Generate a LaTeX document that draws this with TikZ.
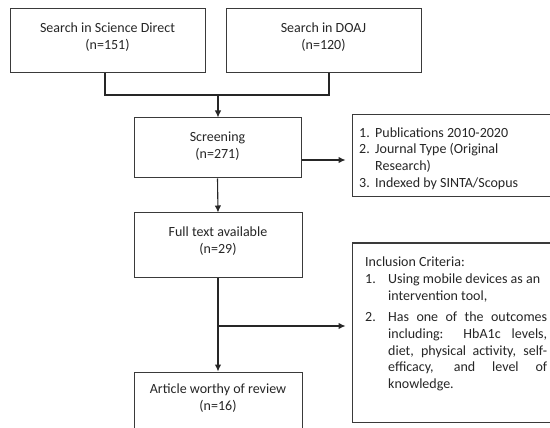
\documentclass[tikz,border=0pt]{standalone}
\usepackage{fontspec}
\setmainfont{Carlito}
\usetikzlibrary{arrows.meta,calc}
\definecolor{edge}{HTML}{3A3A3A}
\definecolor{ink}{HTML}{262626}
\begin{document}
\begin{tikzpicture}[x=1pt,y=-1pt,
  box/.style={draw=edge,line width=1pt,rectangle,inner sep=0pt},
  txt/.style={inner sep=0pt,anchor=north,align=center,text=ink,font=\fontsize{14}{16.7}\selectfont},
  conn/.style={draw=ink,line width=1.1pt},
  arr/.style={conn,-{Latex[length=7pt,width=6.5pt]}}]
\useasboundingbox (0,0) rectangle (550,428);
\clip (0,0) rectangle (550,428);
\fill[white] (0,0) rectangle (550,428);
% boxes
\node[box,minimum width=195pt,minimum height=64pt] (sd) at (107.5,41) {};
\node[box,minimum width=195pt,minimum height=64pt] (doaj) at (323.5,41) {};
\node[box,minimum width=167pt,minimum height=60pt] (scr) at (217.5,148) {};
\node[box,minimum width=168pt,minimum height=64pt] (full) at (218,245) {};
\node[box,minimum width=168pt,minimum height=64pt] (art) at (218,404) {};
\node[box,minimum width=204pt,minimum height=82pt] (c1) at (454,156) {};
\node[box,minimum width=204pt,minimum height=179pt] (c2) at (454,332.5) {};
% texts
\node[txt] (sdt) at (107.5,21) {\strut Search in Science Direct\\(n=151)};
\node[txt] (doajt) at (323.5,21) {\strut Search in DOAJ\\(n=120)};
\node[txt] (scrt) at (217.5,130) {\strut Screening\\(n=271)};
\node[txt] (fullt) at (218,225) {\strut Full text available\\(n=29)};
\node[txt] (artt) at (218,382) {\strut Article worthy of review\\(n=16)};
\node[txt,anchor=north west,align=left] (c1t) at (359,125.3) {\strut\makebox[16pt][l]{1.}Publications 2010-2020\\
\makebox[16pt][l]{2.}Journal Type (Original\\
\hspace*{16pt}Research)\\
\makebox[16pt][l]{3.}Indexed by SINTA/Scopus};
\node[txt,anchor=north west,align=left] (c2t) at (365,254.8) {\strut Inclusion Criteria:\\
\makebox[23pt][l]{1.}Using mobile devices as an\\
\hspace*{23pt}intervention tool,\\[5pt]
\makebox[23pt][l]{2.}\makebox[159pt][s]{Has one of the outcomes}\\
\hspace*{23pt}\makebox[159pt][s]{including: HbA1c levels,}\\
\hspace*{23pt}\makebox[159pt][s]{diet, physical activity, self-}\\
\hspace*{23pt}\makebox[159pt][s]{efficacy, and level of}\\
\hspace*{23pt}knowledge.};
% connectors
\coordinate (m1) at (105,95);
\coordinate (m2) at (329,95);
\coordinate (mm) at (218,95);
\coordinate (c1a) at (0,160);
\coordinate (br) at (218,326);
\draw[conn] (sd.south -| m1) -- (m1) -- (m2) -- (doaj.south -| m2);
\draw[arr] (mm) -- (mm |- scr.north);
\draw[arr] (scr.south) -- (full.north);
\draw[arr,shorten >=6pt] (scr.east |- c1a) -- (c1.west |- c1a);
\draw[arr] (full.south) -- (art.north);
\draw[arr,shorten >=6pt] (br) -- (c2.west |- br);
\end{tikzpicture}
\end{document}
